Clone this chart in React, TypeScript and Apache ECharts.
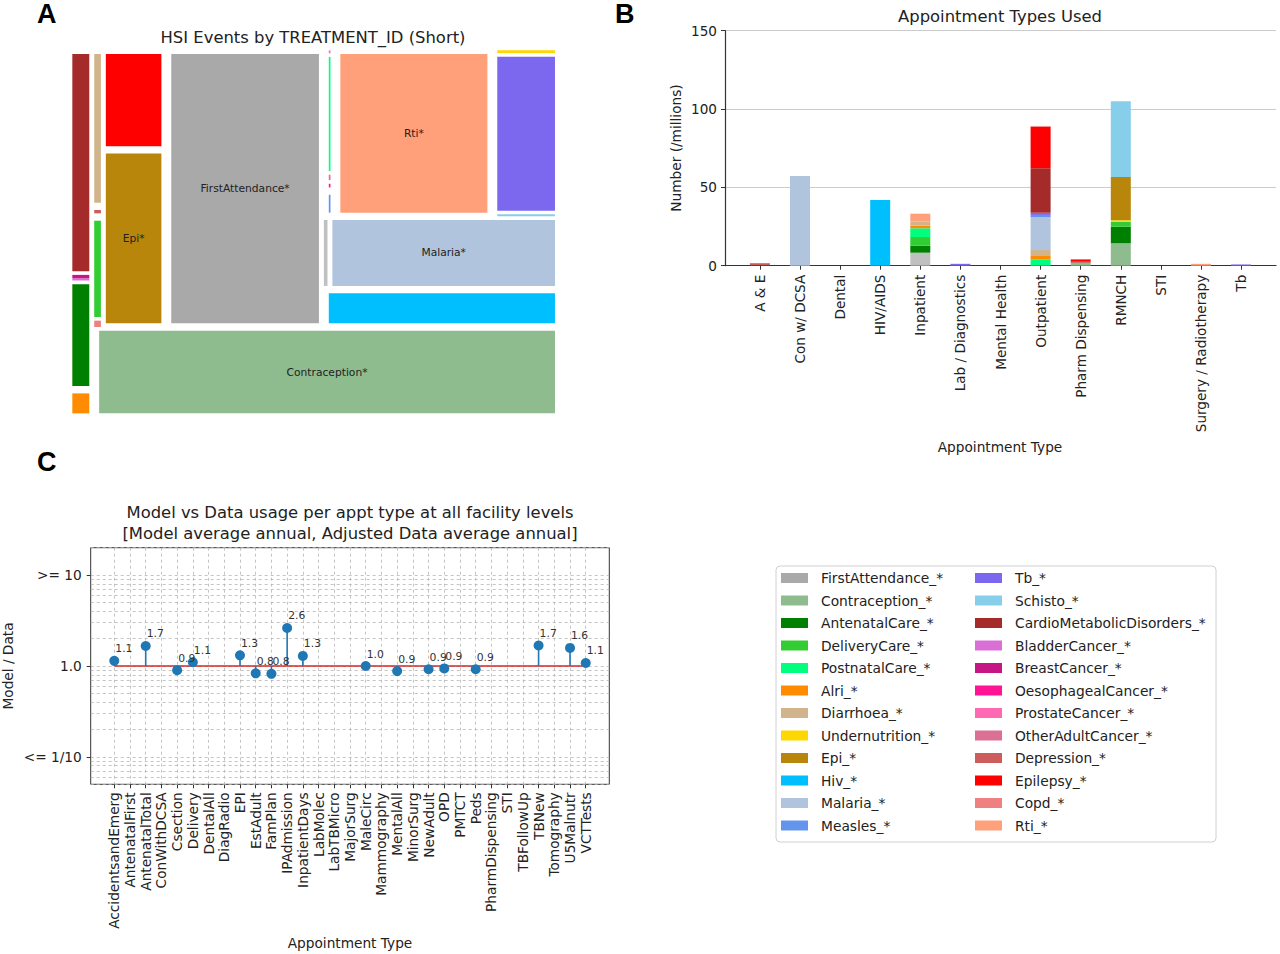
import React, { useEffect, useRef } from 'react';
import * as echarts from 'echarts';

// ---------------- Panel A: treemap (HSI events by treatment, share of total) ----------------
const treeNames = [
  'Alri', 'AntenatalCare', 'BladderCancer', 'BreastCancer', 'CardioMetabolicDisorders',
  'Contraception', 'Copd', 'DeliveryCare', 'Depression', 'Diarrhoea', 'Epi', 'Epilepsy',
  'FirstAttendance', 'Hiv', 'Inpatient', 'Malaria', 'Measles', 'OesophagealCancer',
  'OtherAdultCancer', 'PostnatalCare', 'ProstateCancer', 'Rti', 'Schisto', 'Tb', 'Undernutrition',
];
const treeValues = [
  40.5, 162, 3.3, 5.0, 333,
  2320, 2.34, 38.4, 3.97, 57.8, 641, 360,
  2411, 488, 14.6, 942, 16.1, 7.0,
  3.5, 77.4, 1.9, 1441, 7.5, 603, 10,
];
const treeLabelled = ['Contraception', 'Epi', 'FirstAttendance', 'Malaria', 'Rti'];

// ---------------- Panel B: appointment types used (millions) ----------------
const apptTypes = [
  'A & E', 'Con w/ DCSA', 'Dental', 'HIV/AIDS', 'Inpatient', 'Lab / Diagnostics',
  'Mental Health', 'Outpatient', 'Pharm Dispensing', 'RMNCH', 'STI', 'Surgery / Radiotherapy', 'Tb',
];
//                         A&E  DCSA  Den  HIV   Inp  Lab  MH   Out   Pha  RMN   STI  Sur  Tb
const bInpatient =        [0,   0,    0,   0,    8.3, 0,   0,   0,    0,   0,    0,   0,   0];
const bFirstAttendance =  [0,   0,    0,   0,    0,   0,   0,   0,    0,   0,    0,   0,   0];
const bContraception =    [0,   0,    0,   0,    0,   0,   0,   0,    2.0, 14.3, 0,   0,   0];
const bAntenatalCare =    [0,   0,    0,   0,    4.5, 0,   0,   0,    0,   10.6, 0,   0,   0];
const bDeliveryCare =     [0,   0,    0,   0,    5.5, 0,   0,   0,    0,   3.2,  0,   0,   0];
const bPostnatalCare =    [0,   0,    0,   0,    5.6, 0,   0,   4.1,  0,   0,    0,   0,   0];
const bAlri =             [0,   0,    0,   0,    1.6, 0,   0,   2.1,  0,   0,    0,   0,   0];
const bDiarrhoea =        [0,   0,    0,   0,    2.6, 0,   0,   3.8,  0,   0,    0,   0,   0];
const bUndernutrition =   [0,   0,    0,   0,    0,   0,   0,   0,    0,   0.9,  0,   0,   0];
const bEpi =              [0,   0,    0,   0,    0,   0,   0,   0,    0,   27.6, 0,   0,   0];
const bHiv =              [0,   0,    0,   41.9, 0,   0,   0,   0,    0,   0,    0,   0,   0];
const bMalaria =          [0,   57.3, 0,   0,    0,   0,   0,   20.9, 0,   0,    0,   0,   0];
const bMeasles =          [0,   0,    0,   0,    0,   0,   0,   1.5,  0,   0,    0,   0,   0];
const bTb =               [0,   0,    0,   0,    0,   1.2, 0,   1.4,  0,   0,    0,   0,   0.8];
const bSchisto =          [0,   0,    0,   0,    0,   0,   0,   0,    0,   48.3, 0,   0,   0];
const bCardio =           [0.4, 0,    0,   0,    0,   0,   0,   28.4, 0.8, 0,    0,   0,   0];
const bBladderCancer =    [0,   0,    0,   0,    0,   0,   0,   0,    0,   0,    0,   0,   0];
const bBreastCancer =     [0,   0,    0,   0,    0,   0,   0,   0,    0,   0,    0,   0,   0];
const bOesophageal =      [0,   0,    0,   0,    0,   0,   0,   0,    0,   0,    0,   0,   0];
const bProstateCancer =   [0,   0,    0,   0,    0,   0,   0,   0,    0,   0,    0,   0,   0];
const bOtherAdultCancer = [0,   0,    0,   0,    0,   0,   0,   0,    0,   0,    0,   0,   0];
const bDepression =       [1.2, 0,    0,   0,    0,   0,   0,   0,    0,   0,    0,   0,   0];
const bEpilepsy =         [0,   0,    0,   0,    0,   0,   0,   26.5, 1.2, 0,    0,   0,   0];
const bCopd =             [0,   0,    0,   0,    0,   0,   0,   0.5,  0,   0,    0,   0,   0];
const bRti =              [0,   0,    0,   0,    5.1, 0,   0,   0,    0,   0,    0,   1.2, 0];

// ---------------- Panel C: model / data ratio per appointment type ----------------
const stemCats = [
  'AccidentsandEmerg', 'AntenatalFirst', 'AntenatalTotal', 'ConWithDCSA', 'Csection', 'Delivery',
  'DentalAll', 'DiagRadio', 'EPI', 'EstAdult', 'FamPlan', 'IPAdmission', 'InpatientDays', 'LabMolec',
  'LabTBMicro', 'MajorSurg', 'MaleCirc', 'Mammography', 'MentalAll', 'MinorSurg', 'NewAdult', 'OPD',
  'PMTCT', 'Peds', 'PharmDispensing', 'STI', 'TBFollowUp', 'TBNew', 'Tomography', 'U5Malnutr', 'VCTTests',
];
const stemRatios: (number | null)[] = [
  1.14, null, 1.66, null, 0.90, 1.1,
  null, null, 1.31, 0.83, 0.82, 2.62, 1.29, null,
  null, null, 1.0, null, 0.88, null, 0.92, 0.94,
  null, 0.92, null, null, null, 1.68, null, 1.58, 1.08,
];
const stemYTickValues = [0.1, 1, 10];
const stemYTickLabels = ['<= 1/10', '1.0', '>= 10'];

// ---------------- styling ----------------
const FONT = 'DejaVu Sans';
const colorOf: Record<string, string> = {
  Inpatient: '#c0c0c0',
  FirstAttendance: '#a9a9a9',
  Contraception: '#8fbc8f',
  AntenatalCare: '#008000',
  DeliveryCare: '#32cd32',
  PostnatalCare: '#00ff7f',
  Alri: '#ff8c00',
  Diarrhoea: '#d2b48c',
  Undernutrition: '#ffd700',
  Epi: '#b8860b',
  Hiv: '#00bfff',
  Malaria: '#b0c4de',
  Measles: '#6495ed',
  Tb: '#7b68ee',
  Schisto: '#87ceeb',
  CardioMetabolicDisorders: '#a52a2a',
  BladderCancer: '#da70d6',
  BreastCancer: '#c71585',
  OesophagealCancer: '#ff1493',
  ProstateCancer: '#ff69b4',
  OtherAdultCancer: '#db7093',
  Depression: '#cd5c5c',
  Epilepsy: '#ff0000',
  Copd: '#f08080',
  Rti: '#ffa07a',
};

const barSeriesDefs: [string, number[], boolean][] = [
  ['Inpatient', bInpatient, false],
  ['FirstAttendance', bFirstAttendance, true],
  ['Contraception', bContraception, true],
  ['AntenatalCare', bAntenatalCare, true],
  ['DeliveryCare', bDeliveryCare, true],
  ['PostnatalCare', bPostnatalCare, true],
  ['Alri', bAlri, true],
  ['Diarrhoea', bDiarrhoea, true],
  ['Undernutrition', bUndernutrition, true],
  ['Epi', bEpi, true],
  ['Hiv', bHiv, true],
  ['Malaria', bMalaria, true],
  ['Measles', bMeasles, true],
  ['Tb', bTb, true],
  ['Schisto', bSchisto, true],
  ['CardioMetabolicDisorders', bCardio, true],
  ['BladderCancer', bBladderCancer, true],
  ['BreastCancer', bBreastCancer, true],
  ['OesophagealCancer', bOesophageal, true],
  ['ProstateCancer', bProstateCancer, true],
  ['OtherAdultCancer', bOtherAdultCancer, true],
  ['Depression', bDepression, true],
  ['Epilepsy', bEpilepsy, true],
  ['Copd', bCopd, true],
  ['Rti', bRti, true],
];

// ---------------- squarify (same algorithm as python "squarify") ----------------
type R = { x: number; y: number; dx: number; dy: number };
const sum = (a: number[]) => a.reduce((s, v) => s + v, 0);
function layoutRow(s: number[], x: number, y: number, dx: number, dy: number): R[] {
  const w = sum(s) / dy; const out: R[] = [];
  for (const v of s) { out.push({ x, y, dx: w, dy: v / w }); y += v / w; }
  return out;
}
function layoutCol(s: number[], x: number, y: number, dx: number, dy: number): R[] {
  const h = sum(s) / dx; const out: R[] = [];
  for (const v of s) { out.push({ x, y, dx: v / h, dy: h }); x += v / h; }
  return out;
}
function layout(s: number[], x: number, y: number, dx: number, dy: number) {
  return dx >= dy ? layoutRow(s, x, y, dx, dy) : layoutCol(s, x, y, dx, dy);
}
function leftover(s: number[], x: number, y: number, dx: number, dy: number): number[] {
  if (dx >= dy) { const w = sum(s) / dy; return [x + w, y, dx - w, dy]; }
  const h = sum(s) / dx; return [x, y + h, dx, dy - h];
}
function worst(s: number[], x: number, y: number, dx: number, dy: number) {
  return Math.max(...layout(s, x, y, dx, dy).map((r) => Math.max(r.dx / r.dy, r.dy / r.dx)));
}
function squarify(s: number[], x: number, y: number, dx: number, dy: number): R[] {
  if (!s.length) return [];
  if (s.length === 1) return layout(s, x, y, dx, dy);
  let i = 1;
  while (i < s.length && worst(s.slice(0, i), x, y, dx, dy) >= worst(s.slice(0, i + 1), x, y, dx, dy)) i++;
  const cur = s.slice(0, i);
  const [lx, ly, ldx, ldy] = leftover(cur, x, y, dx, dy);
  return layout(cur, x, y, dx, dy).concat(squarify(s.slice(i), lx, ly, ldx, ldy));
}
function treeRects() {
  const total = sum(treeValues);
  const norm = treeValues.map((v) => (v * 10000) / total);
  return squarify(norm, 0, 0, 100, 100).map((r, i) => {
    const p = { ...r };
    if (p.dx > 2) { p.x += 1; p.dx -= 2; }
    if (p.dy > 2) { p.y += 1; p.dy -= 2; }
    return [p.x, p.y, p.dx, p.dy, i];
  });
}

export default function App() {
  const ref = useRef<HTMLDivElement>(null);
  useEffect(() => {
    if (!ref.current) return;
    const chart = echarts.init(ref.current, null, { renderer: 'svg' });

    const txt = (text: string, x: number, y: number, size: number, extra: any = {}) => ({
      type: 'text', x, y, silent: true, ...extra,
      style: { text, fill: '#222', fontSize: size, fontFamily: FONT, align: 'center', verticalAlign: 'middle', ...(extra.style || {}) },
    });
    const letter = (t: string, x: number, y: number) => ({
      type: 'text', x, y, silent: true,
      style: { text: t, fill: '#000', fontSize: 27, fontWeight: 'bold', fontFamily: 'Liberation Sans', align: 'left', verticalAlign: 'middle' },
    });

    const minorGrid: number[] = [];
    [0.01, 0.1, 1, 10].forEach((d) => {
      for (let k = 2; k <= 9; k++) { const v = k * d; if (v >= 0.05 && v <= 20) minorGrid.push(v); }
    });

    const idxB = apptTypes.map((_, i) => i);
    const idxC = stemCats.map((_, i) => i);
    const stemPts = stemRatios
      .map((v, i) => (v == null ? null : [i, v]))
      .filter((p) => p != null) as number[][];
    const legendNames = barSeriesDefs.filter((d) => d[2]).map((d) => d[0] + '_*');

    const legendCommon = {
      orient: 'vertical', top: 571, padding: 0, itemWidth: 27, itemHeight: 10, itemGap: 8.5, icon: 'rect',
      selectedMode: false,
      textStyle: { fontSize: 13.8, color: '#222', fontFamily: FONT, lineHeight: 14, padding: [0, 0, 0, 8] },
    };

    const option: any = {
      animation: false,
      backgroundColor: '#fff',
      textStyle: { fontFamily: FONT },
      grid: [
        { left: 67.4, top: 50.33, width: 492.5, height: 366.7 },
        { left: 725, top: 30.7, width: 551, height: 235 },
        { left: 90.7, top: 547.7, width: 518.6, height: 236.6, show: true, borderColor: '#333', borderWidth: 1 },
      ],
      xAxis: [
        { gridIndex: 0, type: 'value', min: 0, max: 100, show: false },
        {
          gridIndex: 1, type: 'value', min: -0.87, max: 12.87,
          axisLine: { show: true, onZero: false, lineStyle: { color: '#333', width: 1.2 } },
          axisTick: { show: true, customValues: idxB, length: 4, lineStyle: { color: '#333' } },
          axisLabel: {
            customValues: idxB, rotate: 90, margin: 9, fontSize: 13.6, color: '#222', fontFamily: FONT,
            formatter: (v: number) => apptTypes[Math.round(v)] ?? '',
          },
          splitLine: { show: false },
        },
        {
          gridIndex: 2, type: 'value', min: -1.5, max: 31.5,
          axisLine: { show: false, onZero: false },
          axisTick: { show: true, customValues: idxC, length: 4, lineStyle: { color: '#333' } },
          axisLabel: {
            customValues: idxC, rotate: 90, margin: 8, fontSize: 13.7, color: '#222', fontFamily: FONT,
            formatter: (v: number) => stemCats[Math.round(v)] ?? '',
          },
          splitLine: { show: true, lineStyle: { type: [3, 3], color: '#b5b5b5', width: 0.8 } },
        },
      ],
      yAxis: [
        { gridIndex: 0, type: 'value', min: 0, max: 100, show: false },
        {
          gridIndex: 1, type: 'value', min: 0, max: 150, interval: 50,
          axisLine: { show: true, onZero: false, lineStyle: { color: '#333', width: 1.2 } },
          axisTick: { show: true, length: 4, lineStyle: { color: '#333' } },
          axisLabel: { fontSize: 13.6, color: '#222', margin: 8, fontFamily: FONT },
          splitLine: { show: true, lineStyle: { color: '#cccccc', width: 1 } },
        },
        {
          gridIndex: 2, type: 'log', logBase: 10, min: 0.05, max: 20,
          axisLine: { show: false, onZero: false },
          axisTick: { show: true, customValues: stemYTickValues, length: 4, lineStyle: { color: '#333' } },
          axisLabel: {
            customValues: stemYTickValues, fontSize: 13.7, color: '#222', margin: 9, fontFamily: FONT,
            formatter: (v: number) => {
              const k = stemYTickValues.findIndex((t) => Math.abs(v - t) / t < 1e-6);
              return k >= 0 ? stemYTickLabels[k] : '';
            },
          },
          splitLine: { show: true, lineStyle: { type: [3, 3], color: '#b5b5b5', width: 0.8 } },
        },
      ],
      legend: [
        { ...legendCommon, left: 781, data: legendNames.slice(0, 12) },
        { ...legendCommon, left: 975, data: legendNames.slice(12) },
      ],
      series: [
        {
          type: 'custom', name: 'treemap', xAxisIndex: 0, yAxisIndex: 0, clip: false, silent: true,
          data: treeRects(),
          renderItem: (_p: any, api: any) => {
            const x = api.value(0), y = api.value(1), w = api.value(2), h = api.value(3);
            const name = treeNames[api.value(4)];
            const a = api.coord([x, y + h]);
            const b = api.coord([x + w, y]);
            const children: any[] = [{
              type: 'rect',
              shape: { x: a[0], y: a[1], width: b[0] - a[0], height: b[1] - a[1] },
              style: { fill: colorOf[name] },
            }];
            if (treeLabelled.includes(name)) {
              children.push({
                type: 'text', x: (a[0] + b[0]) / 2, y: (a[1] + b[1]) / 2,
                style: { text: name + '*', fill: '#222', fontSize: 10.7, fontFamily: FONT, align: 'center', verticalAlign: 'middle' },
              });
            }
            return { type: 'group', children };
          },
        },
        ...barSeriesDefs.map(([n, arr]) => ({
          type: 'bar', name: n + '_*', xAxisIndex: 1, yAxisIndex: 1, stack: 'appt', barWidth: 20,
          itemStyle: { color: colorOf[n] },
          // value first so that stacking happens on the y (value) dimension
          encode: { x: 1, y: 0 },
          data: arr.map((v, i) => [v, i]),
        })),
        {
          type: 'line', name: 'baseline', xAxisIndex: 2, yAxisIndex: 2, symbol: 'none', silent: true,
          data: [[idxC[0], 1], [idxC[idxC.length - 1], 1]],
          lineStyle: { color: '#d62728', width: 1.5 }, z: 3,
          markLine: {
            silent: true, symbol: ['none', 'none'], label: { show: false }, z: 1,
            lineStyle: { type: [3, 3], color: '#b5b5b5', width: 0.8 },
            data: minorGrid.map((v) => ({ yAxis: v })),
          },
        },
        {
          type: 'custom', name: 'stems', xAxisIndex: 2, yAxisIndex: 2, silent: true, z: 4,
          data: stemPts,
          renderItem: (_p: any, api: any) => {
            const a = api.coord([api.value(0), 1]);
            const b = api.coord([api.value(0), api.value(1)]);
            return { type: 'line', shape: { x1: a[0], y1: a[1], x2: b[0], y2: b[1] }, style: { stroke: '#1f77b4', lineWidth: 1.6 } };
          },
        },
        {
          type: 'scatter', name: 'ratio', xAxisIndex: 2, yAxisIndex: 2, symbolSize: 10, z: 5,
          itemStyle: { color: '#1f77b4', opacity: 1 },
          data: stemPts,
          label: {
            show: true, position: 'top', align: 'left', distance: 1.5, offset: [1, 0],
            fontSize: 10.8, color: '#333', fontFamily: FONT,
            formatter: (p: any) => p.value[1].toFixed(1),
          },
        },
      ],
      graphic: [
        { type: 'rect', shape: { x: 776, y: 566, width: 440, height: 276, r: 4 }, style: { fill: '#fff', stroke: '#d0d0d0', lineWidth: 1 }, z: -1, silent: true },
        letter('A', 37, 14),
        letter('B', 615, 14),
        letter('C', 37, 462),
        txt('HSI Events by TREATMENT_ID (Short)', 313, 37, 16.4),
        txt('Appointment Types Used', 1000, 16, 16.4),
        txt('Number (/millions)', 676, 148, 13.7, { rotation: Math.PI / 2 }),
        txt('Appointment Type', 1000, 447, 13.7),
        txt('Model vs Data usage per appt type at all facility levels', 350, 512, 16.4),
        txt('[Model average annual, Adjusted Data average annual]', 350, 533, 16.4),
        txt('Model / Data', 8, 666, 13.7, { rotation: Math.PI / 2 }),
        txt('Appointment Type', 350, 943, 13.7),
      ],
    };
    chart.setOption(option);
    return () => chart.dispose();
  }, []);
  return <div ref={ref} style={{ position: 'absolute', left: 0, top: 0, width: 1280, height: 954 }} />;
}
